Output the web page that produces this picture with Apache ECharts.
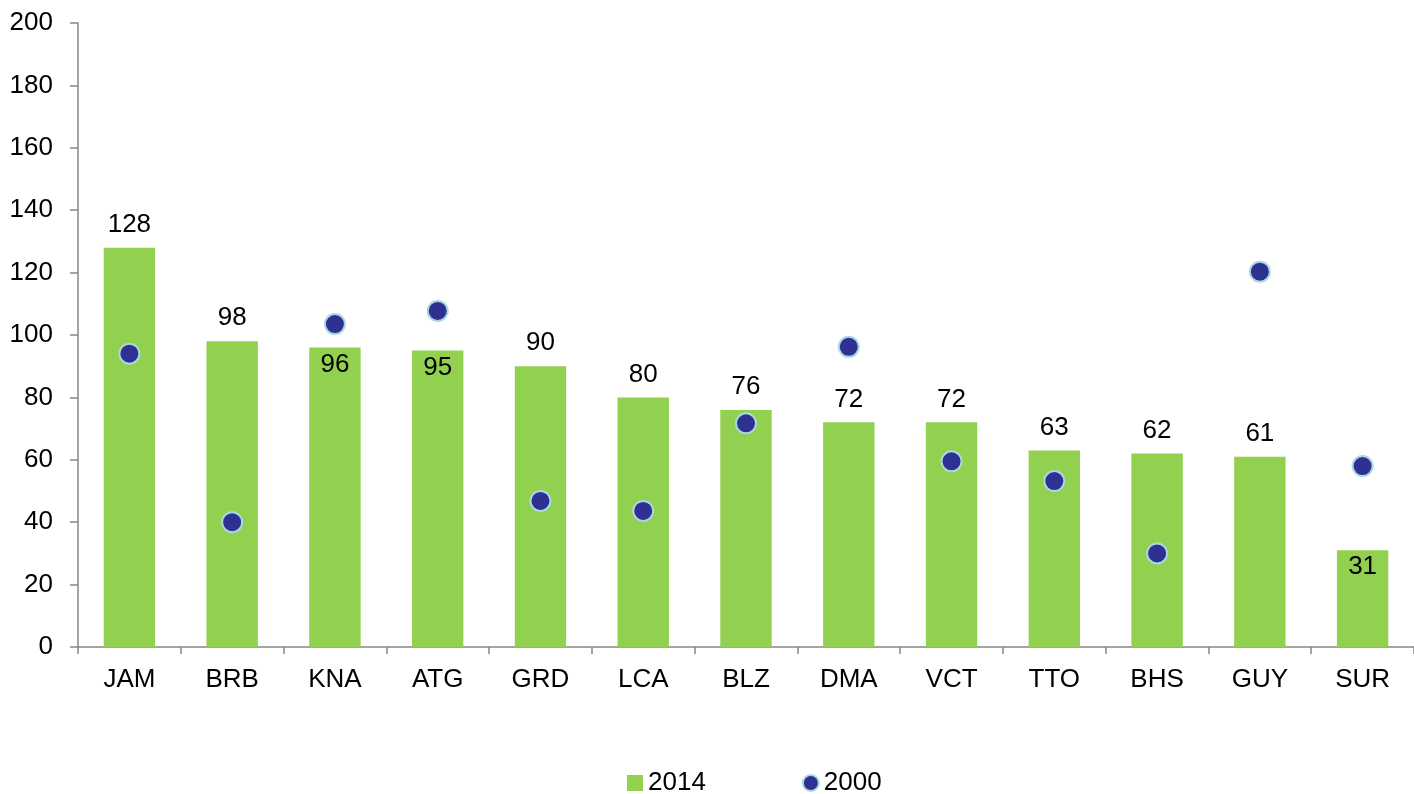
<!DOCTYPE html>
<html>
<head>
<meta charset="utf-8">
<script src="https://cdn.jsdelivr.net/npm/echarts@6/dist/echarts.min.js"></script>
<style>
    html, body { margin: 0; padding: 0; background: #fff; }
    #chart { width: 1414px; height: 794px; }
</style>
</head>
<body>
<div id="chart"></div>
<script>
var categories = ['JAM', 'BRB', 'KNA', 'ATG', 'GRD', 'LCA', 'BLZ', 'DMA', 'VCT', 'TTO', 'BHS', 'GUY', 'SUR'];
var values2014 = [128, 98, 96, 95, 90, 80, 76, 72, 72, 63, 62, 61, 31];
var values2000 = [94, 40, 103.5, 107.7, 46.8, 43.6, 71.7, 96.2, 59.5, 53.2, 30, 120.3, 58];
// labels that sit inside the bar top (so they do not clash with the dot)
var insideLabels = ['KNA', 'ATG', 'SUR'];
var yTicks = [0, 200, 20];

initChart();

function initChart() {
    var myChart = echarts.init(document.getElementById('chart'));
    var font = 'Liberation Sans, Arial, sans-serif';

    var barData = values2014.map(function (v, i) {
        if (insideLabels.indexOf(categories[i]) >= 0) {
            return { value: v, label: { position: 'insideTop', distance: 4 } };
        }
        return v;
    });

    var option = {
        animation: false,
        textStyle: { fontFamily: font },
        grid: {
            left: 78,
            right: 0,
            top: 23,
            bottom: 147
        },
        legend: {
            top: 770,
            left: 627,
            padding: 0,
            itemGap: 96,
            itemWidth: 16,
            itemHeight: 16,
            textStyle: { fontSize: 26, color: '#000', fontFamily: font },
            data: [
                { name: '2014', icon: 'rect', itemStyle: { color: '#92D050' } },
                { name: '2000', icon: 'circle', itemStyle: { color: '#2E3192', borderColor: '#A9D8E1', borderWidth: 2 } }
            ]
        },
        xAxis: {
            type: 'category',
            data: categories,
            axisLine: { lineStyle: { color: '#868686', width: 1.5 } },
            axisTick: { show: true, length: 7, lineStyle: { color: '#868686', width: 1.5 } },
            axisLabel: { color: '#000', fontSize: 26, margin: 20, fontFamily: font },
            splitLine: { show: false }
        },
        yAxis: {
            type: 'value',
            min: yTicks[0],
            max: yTicks[1],
            interval: yTicks[2],
            axisLine: { show: true, lineStyle: { color: '#868686', width: 1.5 } },
            axisTick: { show: true, length: 8, lineStyle: { color: '#868686', width: 1.5 } },
            axisLabel: { color: '#000', fontSize: 26, margin: 25, fontFamily: font },
            splitLine: { show: false }
        },
        series: [
            {
                name: '2014',
                type: 'bar',
                barWidth: '50%',
                itemStyle: { color: '#92D050' },
                label: {
                    show: true,
                    position: 'top',
                    distance: 10,
                    color: '#000',
                    fontSize: 26,
                    fontFamily: font
                },
                data: barData,
                z: 2
            },
            {
                name: '2000',
                type: 'scatter',
                symbol: 'circle',
                symbolSize: 20,
                itemStyle: { color: '#2E3192', borderColor: '#A9D8E1', borderWidth: 2, opacity: 1 },
                data: values2000,
                z: 3
            }
        ]
    };
    myChart.setOption(option);
}
</script>
</body>
</html>
